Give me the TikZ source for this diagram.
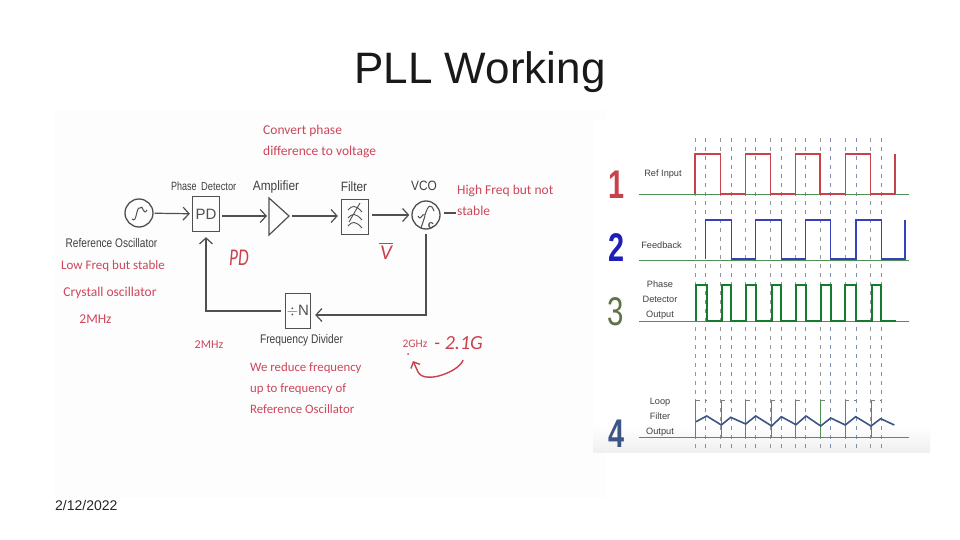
\documentclass[tikz,border=0pt]{standalone}
\usepackage{fontspec}
\setmainfont{Liberation Sans}
\newfontfamily\notefont{Carlito}
\usetikzlibrary{arrows.meta,positioning,calc}
\definecolor{plotred}{RGB}{200,65,75}
\definecolor{notered}{RGB}{205,70,90}
\definecolor{inkgray}{RGB}{80,80,80}
\definecolor{plotblue}{RGB}{55,65,185}
\definecolor{digitblue}{RGB}{30,30,185}
\definecolor{plotgreen}{RGB}{20,125,45}
\definecolor{basegreen}{RGB}{80,145,85}
\definecolor{slateblue}{RGB}{60,85,135}
\definecolor{guidegray}{RGB}{150,150,150}
\definecolor{guideblue}{RGB}{125,140,180}
\definecolor{oliveink}{RGB}{95,115,70}
\tikzset{
  blockbox/.style={draw=inkgray, line width=1.3pt, minimum width=27pt, minimum height=35pt, inner sep=0pt, font=\fontsize{15}{15}\selectfont, text=inkgray},
  osccircle/.style={circle, draw=inkgray, line width=1.3pt, minimum size=28pt, inner sep=0pt},
  tag/.style={font=\fontsize{12.5}{13}\selectfont, text=black!75, xscale=.88, inner sep=0pt},
  note/.style={font=\notefont\fontsize{13.5}{21}\selectfont, text=notered, inner sep=0pt, align=left},
  wavetag/.style={font=\fontsize{9.2}{15}\selectfont, text=black!75, align=center, inner sep=0pt},
  digit/.style={font=\fontsize{40}{40}\selectfont\bfseries, inner sep=0pt, xscale=.72},
  flow/.style={-{Straight Barb[length=6pt,width=13pt]}, line width=1.2pt, draw=inkgray},
  guide/.style={dash pattern=on 4pt off 5pt, line width=.7pt},
  baseline/.style={draw=basegreen, line width=1pt},
}
\begin{document}
\begin{tikzpicture}[x=1pt,y=-1pt]
  \useasboundingbox (0,0) rectangle (960,540);
  \fill[white] (0,0) rectangle (960,540);
  \node[font=\fontsize{44}{44}\selectfont, text=black!90] (title) at (480,72) {PLL Working};
  \node[font=\fontsize{14}{14}\selectfont, text=black!85, anchor=west, inner sep=0pt] (date) at (55,505) {2/12/2022};
  % left picture
  \fill[black!.8] (55,110) rectangle (605,498);
  \fill[white] (593,120) rectangle (930,425);
  \shade[top color=white, bottom color=black!6] (593,425) rectangle (930,452);
  % blocks
  \node[osccircle] (ref) at (139,213) {};
  \node[blockbox] (pd) at (206,214) {PD};
  \coordinate (amp) at (269,216);
  \draw[draw=inkgray, line width=1.2pt] (269,198) -- (289,216) -- (269,235) -- cycle;
  \coordinate (ampout) at (289,216);
  \node[blockbox] (filter) at (355,217) {};
  \node[osccircle] (vco) at (426,215) {};
  \node[blockbox, minimum width=25pt] (div) at (298,311) {$\div$N};
  \coordinate (corner1) at (426,315);
  \coordinate (stableend) at (456,213);
  % icons
  \draw[inkgray, line width=1pt] (132,219) .. controls (137,224) and (136,206) .. (140,208) .. controls (143,203) and (143,217) .. (147,210);
  \draw[inkgray, line width=.9pt] (348,210) .. controls (352,205) and (356,205) .. (362,212)
    (348,218) .. controls (352,213) and (356,213) .. (362,220)
    (348,226) .. controls (352,221) and (356,221) .. (362,228)
    (349,222) -- (360,203);
  \draw[inkgray, line width=1pt] (418,216) .. controls (421,222) and (422,212) .. (425,215) .. controls (428,205) and (431,203) .. (434,211)
    (421,228) -- (425,216);
  \node[font=\fontsize{11}{11}\selectfont\bfseries, text=inkgray, inner sep=0pt] (vcoc) at (431,226) {c};
  % connectors
  \draw[flow, shorten >=2pt, shorten <=1pt] (ref) -- (pd);
  \draw[flow, shorten >=2pt, shorten <=2pt] (pd.east |- amp) -- (amp);
  \draw[flow, shorten >=3pt, shorten <=3pt] (ampout) -- (filter.west |- ampout);
  \draw[flow, shorten >=2pt, shorten <=3pt] (filter.east |- vco) -- (vco);
  \draw[flow, shorten >=4pt, shorten <=4pt] (vco.south) |- (div.east |- corner1);
  \draw[flow, shorten >=5pt, shorten <=4pt] (div.west) -| (pd.south);
  \draw[inkgray, line width=1.2pt, shorten <=3pt] (vco.east |- stableend) -- (stableend);
  % block labels
  \node[tag, font=\fontsize{12}{13}\selectfont, xscale=.85, anchor=west] (lphase) at (171,186) {Phase};
  \node[tag, anchor=west, font=\fontsize{11.5}{13}\selectfont, xscale=.92] (ldet) at (201,186.5) {Detector};
  \node[tag, font=\fontsize{13.5}{14}\selectfont] (lamp) at (276,187) {Amplifier};
  \node[tag, font=\fontsize{13.5}{14}\selectfont] (lfilter) at (354,187) {Filter};
  \node[tag, font=\fontsize{13.5}{14}\selectfont] (lvco) at (424,186) {VCO};
  \node[tag, xscale=.92] (lref) at (111.5,243) {Reference Oscillator};
  \node[tag, xscale=.93] (ldiv) at (301.5,340) {Frequency Divider};
  % red notes
  \node[note, anchor=north west] (n1) at (263,124.5) {Convert phase\\difference to voltage};
  \node[note, anchor=north west] (n2) at (457,185) {High Freq but not\\stable};
  \node[note, font=\notefont\fontsize{13}{13}\selectfont] (n3) at (113,266) {Low Freq but stable};
  \node[note] (n4) at (110,293) {Crystall oscillator};
  \node[note] (n5) at (95.5,319) {2MHz};
  \node[note, font=\notefont\fontsize{12}{12}\selectfont] (n6) at (209,345) {2MHz};
  \node[note, font=\notefont\fontsize{11.5}{12}\selectfont] (n7) at (415,344) {2GHz};
  \node[note, anchor=north west, font=\notefont\fontsize{12.8}{21}\selectfont] (n8) at (250,362) {We reduce frequency\\up to frequency of\\Reference Oscillator};
  % hand writing
  \node[note, font=\notefont\itshape\fontsize{24}{24}\selectfont, text=plotred, xscale=.72] (hpd) at (239,258) {PD};
  \node[note, font=\notefont\itshape\fontsize{21}{21}\selectfont, text=plotred] (hv) at (386,253) {V};
  \draw[plotred, line width=.9pt] (379,243) -- (393,243);
  \node[note, font=\notefont\itshape\fontsize{20}{20}\selectfont, text=plotred, anchor=west] (hg) at (434,343) {- 2.1G};
  \coordinate (hook) at (413,361);
  \coordinate (hookstart) at (463,360);
  \draw[plotred, line width=1.4pt, -{Straight Barb[length=5pt,width=10pt]}] (hookstart) .. controls (460,371) and (425,385) .. (418,372) -- (hook);
  \fill[plotred] (408,354) circle (1pt);
  % guides
  \foreach \gx in {695,720.7,745.7,770.7,795.3,820,845.3,870.7}
    \draw[guide, guidegray] (\gx,138) -- (\gx,450);
  \foreach \gx in {705.7,731,755.7,781.3,805.7,830.7,856,881}
    \draw[guide, guideblue] (\gx,138) -- (\gx,450);
  % wave labels
  \node[wavetag] (w1) at (663,174) {Ref Input};
  \node[wavetag] (w2) at (661.5,245) {Feedback};
  \node[wavetag] (w3) at (660,300) {Phase\\Detector\\Output};
  \node[wavetag] (w4) at (660,417) {Loop\\Filter\\Output};
  \node[digit, text=plotred] (d1) at (616,185) {1};
  \node[digit, text=digitblue] (d2) at (616,248) {2};
  \node[digit, text=oliveink, font=\fontsize{40}{40}\selectfont, xscale=1.02] (d3) at (616,312) {3};
  \node[digit, text=slateblue] (d4) at (616,434) {4};
  % baselines
  \foreach \by in {194,260,321,437}
    \draw[baseline] (639,\by) -- (909,\by);
  % traces
  \draw[plotred, line width=1.3pt] (695,194) -- (695,154) -- (720.7,154) -- (720.7,194) -- (745.7,194) -- (745.7,154) -- (770.7,154) -- (770.7,194) -- (795.3,194) -- (795.3,154) -- (820,154) -- (820,194) -- (845.3,194) -- (845.3,154) -- (870.7,154) -- (870.7,194) -- (895,194) -- (895,154);
  \draw[plotblue, line width=1.3pt] (705.3,259) -- (705.3,220) -- (731.3,220) -- (731.3,259) -- (755.7,259) -- (755.7,220) -- (781.3,220) -- (781.3,259) -- (805.7,259) -- (805.7,220) -- (830.7,220) -- (830.7,259) -- (856,259) -- (856,220) -- (881.3,220) -- (881.3,259) -- (905,259) -- (905,220);
  \draw[plotgreen, line width=2pt] (696,321) -- (696,285) -- (706.7,285) -- (706.7,321) -- (721.7,321) -- (721.7,285) -- (731.3,285) -- (731.3,321) -- (745.7,321) -- (745.7,285) -- (755.7,285) -- (755.7,321) -- (771.7,321) -- (771.7,285) -- (781.3,285) -- (781.3,321) -- (796,321) -- (796,285) -- (806,285) -- (806,321) -- (820.7,321) -- (820.7,285) -- (830.7,285) -- (830.7,321) -- (845.3,321) -- (845.3,285) -- (855.7,285) -- (855.7,321) -- (871.7,321) -- (871.7,285) -- (880.7,285) -- (880.7,321) -- (896,321);
  % filter pulses
  \foreach \ua/\ub in {695.5/706.7,721/731,745.7/755.7,771/781,795.7/806,820.7/830.7,845.3/856,871/881}{
    \draw[basegreen, line width=.8pt] (\ua,437) -- (\ua,400);
    \draw[guide, black!50] (\ua,400) -- (\ub,400);
  }
  \draw[slateblue, line width=1.6pt] (696,421.7) -- (706.7,416) -- (721.3,425) -- (730.7,417.3) -- (745.7,424) -- (755.7,416) -- (771.7,426) -- (781.3,416.7) -- (796,424.7) -- (806,416) -- (820.7,426) -- (830.7,418) -- (845.3,425) -- (855.7,416.7) -- (871,426) -- (880.7,418.7) -- (894.3,425);
\end{tikzpicture}
\end{document}
